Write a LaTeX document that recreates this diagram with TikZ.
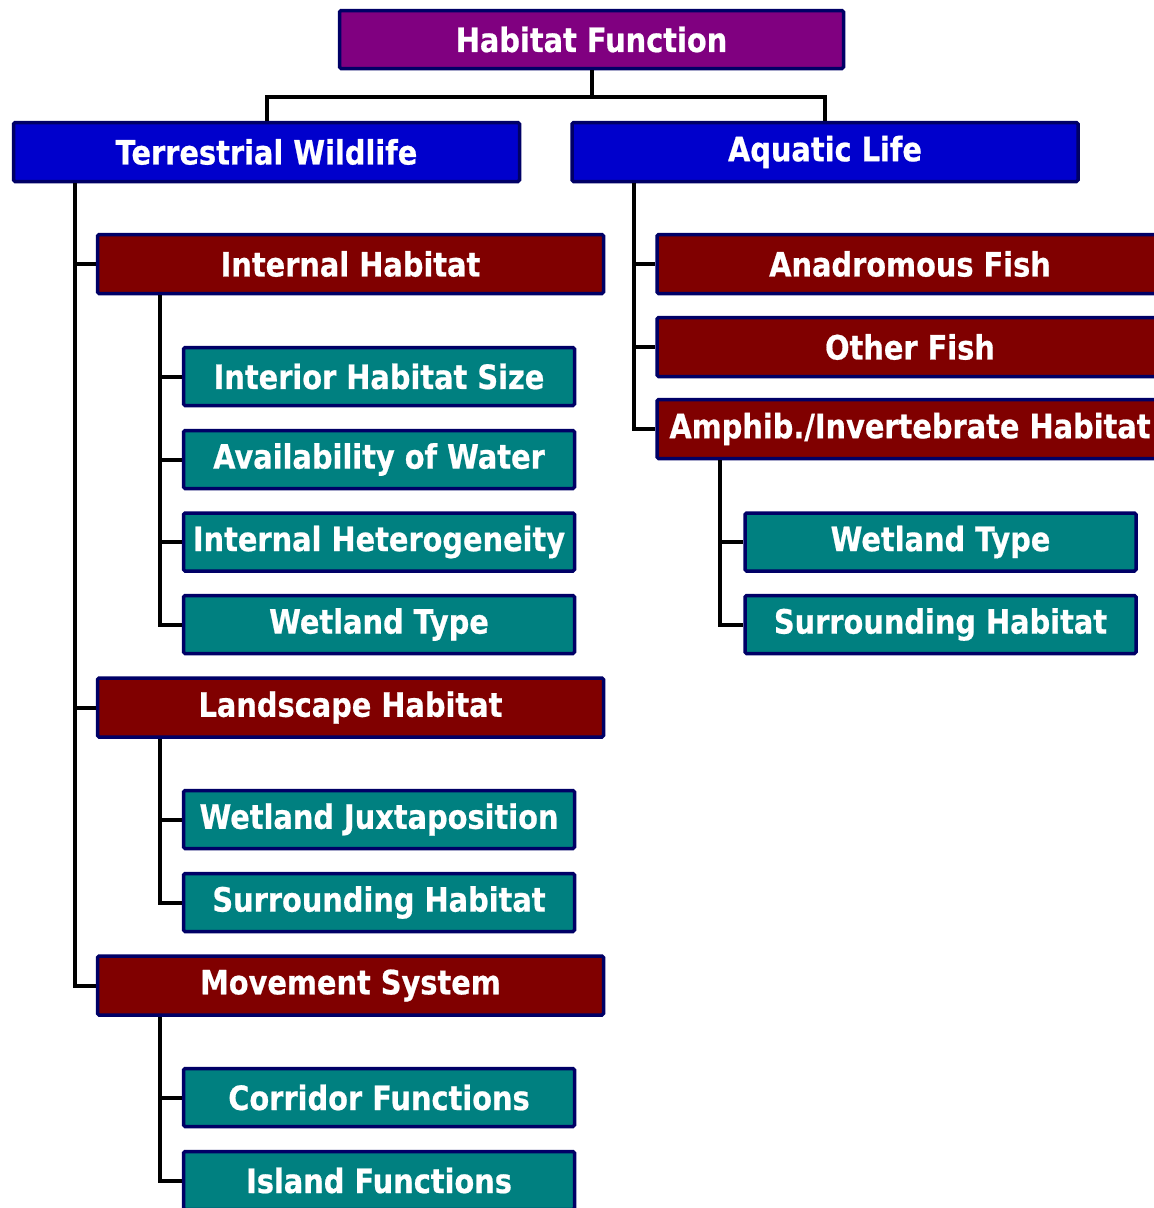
\documentclass[tikz,border=0pt]{standalone}
\usepackage{fontspec}
\newfontfamily\boxfont{DejaVu Sans}[FakeStretch=0.86,FakeBold=0.6]
\usetikzlibrary{calc}
\definecolor{hpurple}{HTML}{800080}
\definecolor{hblue}{HTML}{0000CC}
\definecolor{hred}{HTML}{800000}
\definecolor{hteal}{HTML}{008080}
\definecolor{hnavy}{HTML}{000066}
\tikzset{
  basebox/.style={draw=hnavy, line width=3.5pt, rounded corners=1.5pt, inner sep=0pt,
    text=white, font=\boxfont\bfseries\fontsize{33.5}{38}\selectfont, anchor=center},
  topbox/.style={basebox, fill=hpurple, minimum width=504pt, minimum height=58pt},
  lvlbox/.style={basebox, fill=hblue, minimum width=506pt, minimum height=59pt},
  redbox/.style={basebox, fill=hred, minimum width=506pt, minimum height=59pt},
  tealbox/.style={basebox, fill=hteal, minimum width=391pt, minimum height=58pt},
  conn/.style={draw=black, line width=4pt}
}
\begin{document}
\begin{tikzpicture}[x=1pt,y=-1pt]
\clip (0,0) rectangle (1154,1208);
\fill[white] (0,0) rectangle (1154,1208);
% trunk positions
\coordinate (bar) at (0,97);
\coordinate (x1) at (75,0);
\coordinate (x2) at (160,0);
\coordinate (x3) at (634,0);
\coordinate (x4) at (720,0);
% nodes
\node[topbox] (hf) at (591.5,39.5) {Habitat Function};
\node[lvlbox] (tw) at (266.5,152) {Terrestrial Wildlife};
\node[lvlbox] (al) at (825,152) {Aquatic Life};
\node[redbox] (ih) at (350.5,264) {Internal Habitat};
\node[tealbox] (ihs) at (379,376.5) {Interior Habitat Size};
\node[tealbox] (aw) at (379,459.5) {Availability of Water};
\node[tealbox] (ihet) at (379,542) {Internal Heterogeneity};
\node[tealbox] (wt1) at (379,624.5) {Wetland Type};
\node[redbox] (lh) at (350.5,707.5) {Landscape Habitat};
\node[tealbox] (wj) at (379,819.5) {Wetland Juxtaposition};
\node[tealbox] (sh1) at (379,902.5) {Surrounding Habitat};
\node[redbox] (ms) at (350.5,985.5) {Movement System};
\node[tealbox] (cf) at (379,1097.5) {Corridor Functions};
\node[tealbox] (isf) at (379,1180.5) {Island Functions};
\node[redbox] (af) at (910,264) {Anadromous Fish};
\node[redbox] (of) at (910,347) {Other Fish};
\node[redbox] (aih) at (910,429) {Amphib./Invertebrate Habitat};
\node[tealbox] (wt2) at (940.5,542) {Wetland Type};
\node[tealbox] (sh2) at (940.5,624.5) {Surrounding Habitat};
% connectors
\draw[conn] (hf.south) -- (hf.south |- bar) -| (tw.north);
\draw[conn] (hf.south |- bar) -| (al.north);
\draw[conn] (tw.south -| x1) |- (ih.west);
\draw[conn] (tw.south -| x1) |- (lh.west);
\draw[conn] (tw.south -| x1) |- (ms.west);
\draw[conn] (ih.south -| x2) |- (ihs.west);
\draw[conn] (ih.south -| x2) |- (aw.west);
\draw[conn] (ih.south -| x2) |- (ihet.west);
\draw[conn] (ih.south -| x2) |- (wt1.west);
\draw[conn] (lh.south -| x2) |- (wj.west);
\draw[conn] (lh.south -| x2) |- (sh1.west);
\draw[conn] (ms.south -| x2) |- (cf.west);
\draw[conn] (ms.south -| x2) |- (isf.west);
\draw[conn] (al.south -| x3) |- (af.west);
\draw[conn] (al.south -| x3) |- (of.west);
\draw[conn] (al.south -| x3) |- (aih.west);
\draw[conn] (aih.south -| x4) |- (wt2.west);
\draw[conn] (aih.south -| x4) |- (sh2.west);
\end{tikzpicture}
\end{document}
